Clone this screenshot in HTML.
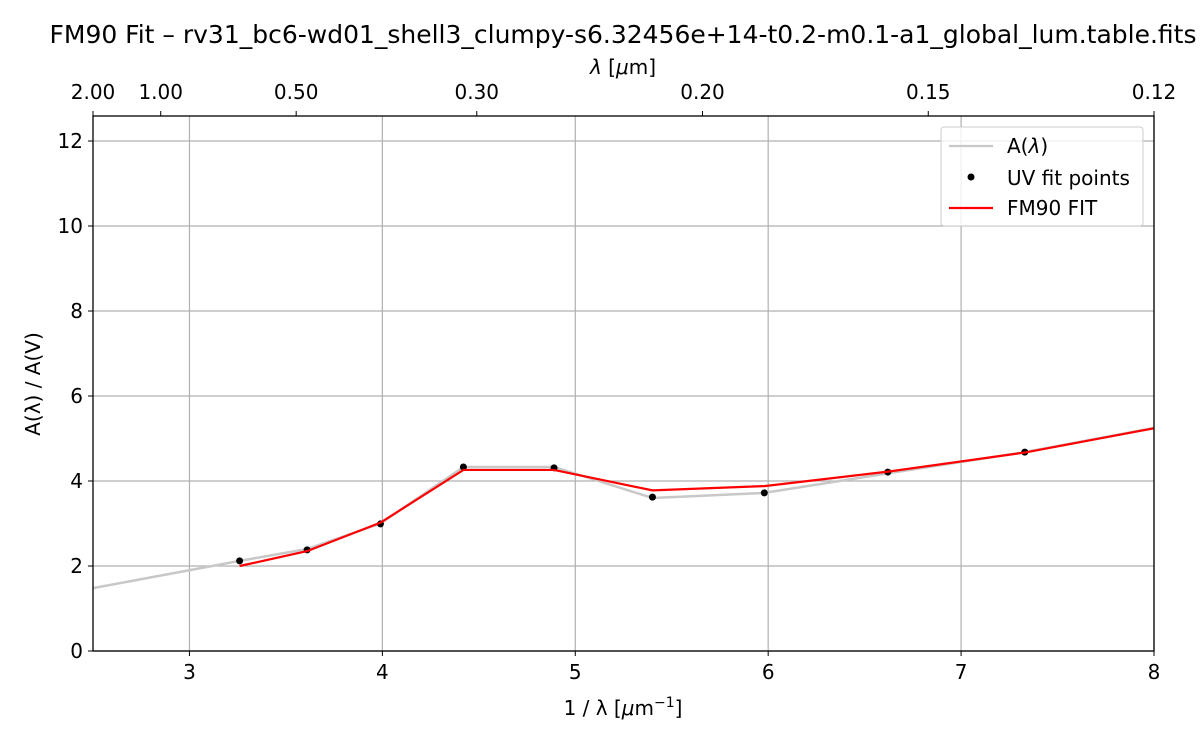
<!DOCTYPE html>
<html><head><meta charset="utf-8"><style>
body{margin:0;background:#fff;}
text{font-family:"DejaVu Sans","Liberation Sans",sans-serif;fill:#000;}
</style></head><body>
<svg id="chart" width="1200" height="750" viewBox="0 0 1200 750" xmlns="http://www.w3.org/2000/svg">
<rect width="1200" height="750" fill="#fff"/>
<g id="grid"></g>
<g id="series"></g>
<g id="axes"></g>
<text x="623" y="43" font-size="24.5" text-anchor="middle" textLength="1147" lengthAdjust="spacingAndGlyphs">FM90 Fit – rv31_bc6-wd01_shell3_clumpy-s6.32456e+14-t0.2-m0.1-a1_global_lum.table.fits</text>
<text x="623" y="74" font-size="20" text-anchor="middle"><tspan font-style="italic">λ</tspan> [<tspan font-style="italic">μ</tspan>m]</text>
<text x="623" y="715" font-size="20" text-anchor="middle">1 / λ [<tspan font-style="italic">μ</tspan>m<tspan font-size="14" dy="-8">−1</tspan><tspan dy="8">]</tspan></text>
<text transform="translate(40,384) rotate(-90)" font-size="20" text-anchor="middle">A(λ) / A(V)</text>
<g>
<rect x="941" y="127" width="202" height="99" rx="3" fill="#fff" fill-opacity="0.8" stroke="#ccc"/>
<line x1="949" y1="146" x2="993" y2="146" stroke="#c8c8c8" stroke-width="2.2"/>
<text x="1007" y="153" font-size="20">A(<tspan font-style="italic">λ</tspan>)</text>
<circle cx="971" cy="177" r="3.5" fill="#000"/>
<text x="1007" y="185" font-size="20">UV fit points</text>
<line x1="949" y1="208" x2="993" y2="208" stroke="#f00" stroke-width="2.2"/>
<text x="1007" y="215" font-size="20">FM90 FIT</text>
</g>
</svg>
<script>
const xTicks=[3,4,5,6,7,8];
const yTicks=[0,2,4,6,8,10,12];
const topTickLabels=["2.00","1.00","0.50","0.30","0.20","0.15","0.12"];
const topTickWavelengths=[2.0,1.0,0.5,0.3,0.2,0.15,0.12];
const curveX=[2.5,3.26,3.61,3.99,4.42,4.89,5.40,5.98,6.62,7.33,8.0];
const curveY=[1.48,2.12,2.40,3.00,4.33,4.33,3.60,3.72,4.18,4.68,5.25];
const pointX=[3.26,3.61,3.99,4.42,4.89,5.40,5.98,6.62,7.33];
const pointY=[2.12,2.38,2.99,4.33,4.31,3.62,3.72,4.21,4.68];
const fitX=[3.26,3.61,3.99,4.42,4.89,5.40,5.98,6.62,7.33,8.0];
const fitY=[2.00,2.35,3.02,4.26,4.26,3.78,3.88,4.22,4.67,5.24];
const L=93,R=1154,T=116,B=651;
const sx=v=>L+(v-2.5)/5.5*(R-L);
const sy=v=>B-v*42.5;
const tx=w=>L+(1/w-0.5)/(1/0.12-0.5)*(R-L);
const NS="http://www.w3.org/2000/svg";
function mk(p,t,a){const e=document.createElementNS(NS,t);for(const k in a)e.setAttribute(k,a[k]);p.appendChild(e);return e;}
const grid=document.getElementById('grid'),ser=document.getElementById('series'),ax=document.getElementById('axes');
xTicks.forEach(v=>{
 const g=mk(grid,'line',{x1:sx(v),x2:sx(v),y1:T,y2:B,stroke:'#b0b0b0','stroke-width':1.2});
 
 
 mk(ax,'line',{x1:sx(v),x2:sx(v),y1:B,y2:B+5,stroke:'#000','stroke-width':1});
 const t=mk(ax,'text',{x:sx(v),y:B+28,'font-size':20,'text-anchor':'middle'});t.textContent=v;
 
 
});
yTicks.forEach(v=>{
 const g=mk(grid,'line',{x1:L,x2:R,y1:sy(v),y2:sy(v),stroke:'#b0b0b0','stroke-width':1.2});
 
 
 mk(ax,'line',{x1:L-5,x2:L,y1:sy(v),y2:sy(v),stroke:'#000','stroke-width':1});
 const t=mk(ax,'text',{x:L-10,y:sy(v)+7,'font-size':20,'text-anchor':'end'});t.textContent=v;
 
 
});
topTickWavelengths.forEach((w,i)=>{
 mk(ax,'line',{x1:tx(w),x2:tx(w),y1:T-5,y2:T,stroke:'#000','stroke-width':1});
 const t=mk(ax,'text',{x:tx(w),y:T-17,'font-size':20,'text-anchor':'middle'});t.textContent=topTickLabels[i];
 
 
});
const frame=mk(ax,'rect',{x:L,y:T,width:R-L,height:B-T,fill:'none',stroke:'#000','stroke-width':1.3});


const cp=mk(ser,'polyline',{points:curveX.map((x,i)=>sx(x)+','+sy(curveY[i])).join(' '),fill:'none',stroke:'#c8c8c8','stroke-width':2.5});


pointX.forEach((x,i)=>{const c=mk(ser,'circle',{cx:sx(x),cy:sy(pointY[i]),r:3.5,fill:'#000'});
 
 });
const fp=mk(ser,'polyline',{points:fitX.map((x,i)=>sx(x)+','+sy(fitY[i])).join(' '),fill:'none',stroke:'#f00','stroke-width':2.2});


</script>
</body></html>
